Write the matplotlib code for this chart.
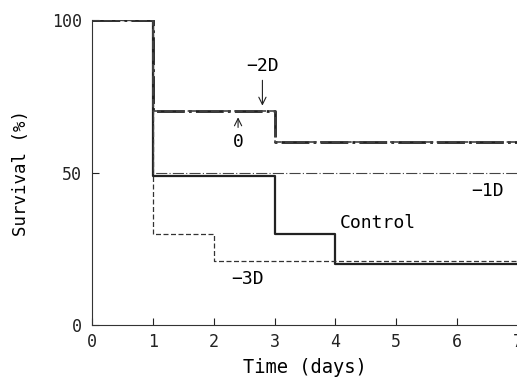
import matplotlib.pyplot as plt

# survival step curves (value holds from day t[i] to t[i+1])
days_control = [0, 1, 3, 4, 7]
surv_control = [100, 49, 30, 20, 20]

days_m3d = [0, 1, 2, 7]
surv_m3d = [100, 30, 21, 21]

days_m1d = [0, 1, 7]
surv_m1d = [100, 50, 50]

days_m2d = [0, 1, 3, 7]
surv_m2d = [100, 70, 60, 60]

days_zero = [0, 1, 3, 7]
surv_zero = [100, 70, 60, 60]

x_ticks = [0, 1, 2, 3, 4, 5, 6, 7]
y_ticks = [0, 50, 100]

plt.rcParams['font.family'] = ['DejaVu Sans Mono']
fig = plt.figure(figsize=(5.17, 3.82), dpi=100)
ax = fig.add_axes([92 / 517, 1 - 325 / 382, 1 - 92 / 517 + 0.002, (325 - 20) / 382])

ax.step(days_control, surv_control, where='post', color='#222222', lw=1.6)
ax.step(days_m3d, surv_m3d, where='post', color='#333333', lw=0.9, ls=(0, (4, 2)))
ax.step(days_m1d, surv_m1d, where='post', color='#444444', lw=0.8, ls=(0, (10, 2, 1, 2)))
ax.step(days_m2d, surv_m2d, where='post', color='#222222', lw=2.0, ls=(0, (10, 1.5, 1, 1.5)))
ax.step(days_zero, surv_zero, where='post', color='#444444', lw=1.2, ls=(0, (5, 2)))

ax.set_xlim(0, 6.97)
ax.set_ylim(0, 100)
ax.set_xticks(x_ticks)
ax.set_yticks(y_ticks)
ax.tick_params(direction='in', length=5, labelsize=12, colors='#222222')
ax.tick_params(axis='x', pad=6)
ax.tick_params(axis='y', pad=7)
for s in ['top', 'right']:
    ax.spines[s].set_visible(False)
for s in ['left', 'bottom']:
    ax.spines[s].set_color('#333333')

ax.annotate('−2D', xy=(2.8, 71), xytext=(2.8, 85), ha='center', va='center',
            fontsize=13, arrowprops=dict(arrowstyle='->', color='#222222', lw=0.8))
ax.annotate('0', xy=(2.4, 69), xytext=(2.4, 60), ha='center', va='center',
            fontsize=13, arrowprops=dict(arrowstyle='->', color='#222222', lw=0.8))
ax.text(6.5, 44, '−1D', ha='center', va='center', fontsize=13)
ax.text(4.7, 33.5, 'Control', ha='center', va='center', fontsize=13)
ax.text(2.55, 15, '−3D', ha='center', va='center', fontsize=13)

ax.set_xlabel('Time (days)', fontsize=13.5, labelpad=5)
ax.set_ylabel('Survival (%)', fontsize=12.5, labelpad=16)

fig.savefig('out.png', dpi=100)
